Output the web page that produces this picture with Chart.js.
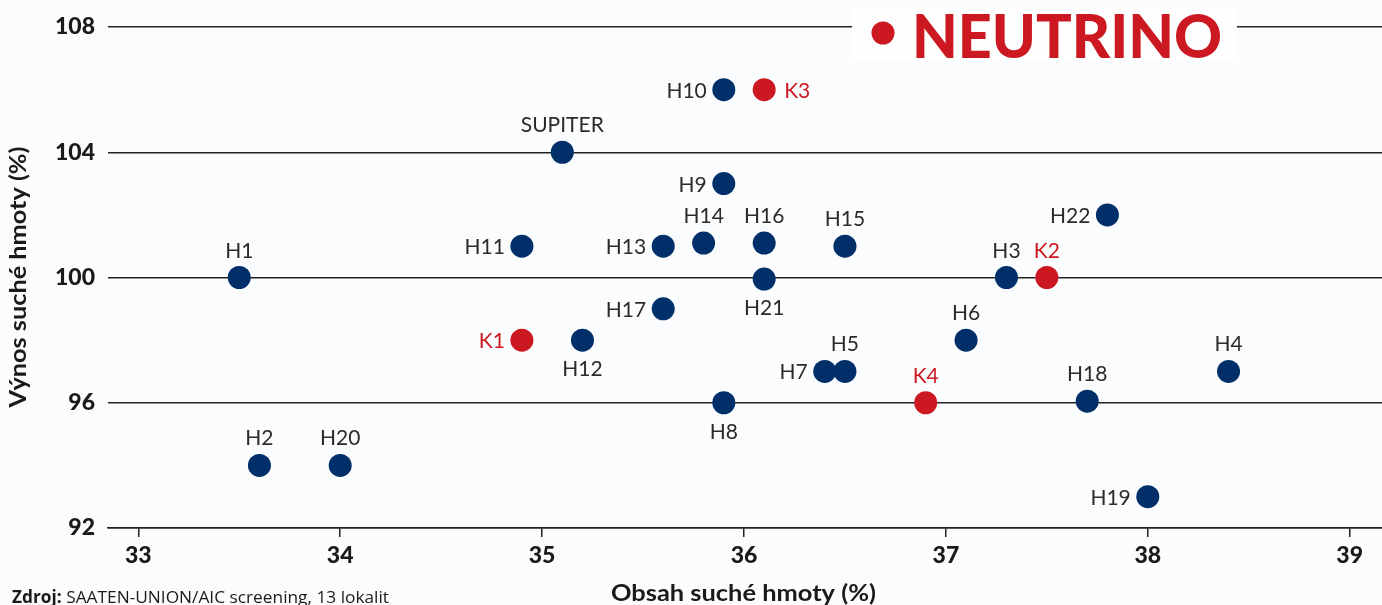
<!DOCTYPE html>
<html>
<head>
<meta charset="utf-8">
<script src="https://cdn.jsdelivr.net/npm/chart.js@4.4.1/dist/chart.umd.min.js"></script>
<style>
  html, body { margin: 0; padding: 0; background: #fbfcfe; }
  #wrap { position: relative; width: 1382px; height: 605px; }
  canvas { display: block; }
</style>
</head>
<body>
<div id="wrap"><canvas id="c" width="1382" height="605"></canvas></div>
<script>
// ---- data ----
const hybridNames = ['SUPITER','H1','H2','H3','H4','H5','H6','H7','H8','H9','H10','H11','H12','H13','H14','H15','H16','H17','H18','H19','H20','H21','H22'];
const hybridDryMatter = [35.1, 33.5, 33.6, 37.3, 38.4, 36.5, 37.1, 36.4, 35.9, 35.9, 35.9, 34.9, 35.2, 35.6, 35.8, 36.5, 36.1, 35.6, 37.7, 38.0, 34.0, 36.1, 37.8];
const hybridYield = [104, 100, 94, 100, 97, 97, 98, 97, 96, 103, 106, 101, 98, 101, 101.1, 101, 101.1, 99, 96.05, 93, 94, 99.95, 102];

const checkNames = ['K1','K2','K3','K4'];
const checkDryMatter = [34.9, 37.5, 36.1, 36.9];
const checkYield = [98, 100, 106, 96];

const xTickValues = [33, 34, 35, 36, 37, 38, 39];
const yTickValues = [92, 96, 100, 104, 108];

const legendTitle = 'NEUTRINO';
const xTitle = 'Obsah suché hmoty (%)';
const yTitle = 'Výnos suché hmoty (%)';
const sourceBold = 'Zdroj:';
const sourceText = ' SAATEN-UNION/AIC screening, 13 lokalit';

// ---- style ----
const NAVY = '#002f69';
const RED = '#cc1820';
const LABEL_GREY = '#2b2b2b';
const TEXT_DARK = '#1a1a1a';
const FONT = 'Lato, "Noto Sans", sans-serif';
const placement = {
  'SUPITER':'top','H1':'top','H2':'top','H3':'top','H4':'top','H5':'top','H6':'top','H7':'left','H8':'bottom',
  'H9':'left','H10':'left','H11':'left','H12':'bottom','H13':'left','H14':'top','H15':'top','H16':'top','H17':'left',
  'H18':'top','H19':'left','H20':'top','H21':'bottom','H22':'left',
  'K1':'left','K2':'top','K3':'right','K4':'top'
};

function fitText(ctx, text, x, y, targetWidth) {
  const w = ctx.measureText(text).width;
  ctx.save();
  ctx.translate(x, y);
  ctx.scale(targetWidth / w, 1);
  ctx.fillText(text, 0, 0);
  ctx.restore();
}

const pointLabels = {
  id: 'pointLabels',
  afterDatasetsDraw(chart) {
    const ctx = chart.ctx;
    ctx.save();
    ctx.font = '400 21px ' + FONT;
    chart.data.datasets.forEach((ds, di) => {
      const meta = chart.getDatasetMeta(di);
      meta.data.forEach((el, i) => {
        const name = ds.names[i];
        const pos = placement[name] || 'top';
        ctx.fillStyle = ds.labelColor;
        const x = el.x, y = el.y;
        ctx.textBaseline = 'alphabetic';
        if (pos === 'top') { ctx.textAlign = 'center'; ctx.fillText(name, x, y - 20); }
        else if (pos === 'bottom') { ctx.textAlign = 'center'; ctx.fillText(name, x, y + 36); }
        else if (pos === 'left') { ctx.textAlign = 'right'; ctx.fillText(name, x - 17, y + 8); }
        else { ctx.textAlign = 'left'; ctx.fillText(name, x + 20, y + 8); }
      });
    });
    ctx.restore();
  }
};

const extras = {
  id: 'extras',
  beforeDraw(chart) {
    const ctx = chart.ctx;
    ctx.save();
    ctx.fillStyle = '#fbfcfe';
    ctx.fillRect(0, 0, chart.width, chart.height);
    ctx.restore();
  },
  afterDraw(chart) {
    const ctx = chart.ctx;
    const area = chart.chartArea;
    // legend box
    ctx.save();
    ctx.fillStyle = '#fefefe';
    ctx.fillRect(852, 8, 385, 52);
    ctx.fillStyle = RED;
    ctx.beginPath();
    ctx.arc(883, 33, 11.5, 0, Math.PI * 2);
    ctx.fill();
    ctx.font = '900 60px ' + FONT;
    ctx.textAlign = 'left';
    ctx.textBaseline = 'alphabetic';
    fitText(ctx, legendTitle, 912, 58, 310);
    ctx.restore();

    // axis titles
    ctx.save();
    ctx.fillStyle = TEXT_DARK;
    ctx.font = '700 22px ' + FONT;
    ctx.textAlign = 'left';
    ctx.textBaseline = 'alphabetic';
    const xs = chart.scales.x;
    const cx = xs.getPixelForValue(36);
    fitText(ctx, xTitle, cx - 133, 601, 265);
    ctx.save();
    ctx.translate(26, (area.top + area.bottom) / 2 + 130);
    ctx.rotate(-Math.PI / 2);
    fitText(ctx, yTitle, 0, 0, 261);
    ctx.restore();
    ctx.restore();

    // source
    ctx.save();
    ctx.fillStyle = TEXT_DARK;
    ctx.textBaseline = 'alphabetic';
    ctx.textAlign = 'left';
    ctx.font = '700 17px "Open Sans", Lato, sans-serif';
    const wb = ctx.measureText(sourceBold).width;
    ctx.font = '400 17px "Open Sans", Lato, sans-serif';
    const wr = ctx.measureText(sourceText).width;
    const sx = 377 / (wb + wr);
    ctx.translate(12, 603);
    ctx.scale(sx, 1);
    ctx.font = '700 17px "Open Sans", Lato, sans-serif';
    ctx.fillText(sourceBold, 0, 0);
    ctx.font = '400 17px "Open Sans", Lato, sans-serif';
    ctx.fillText(sourceText, wb, 0);
    ctx.restore();
  }
};

const toPts = (xs, ys) => xs.map((x, i) => ({ x: x, y: ys[i] }));

new Chart(document.getElementById('c'), {
  type: 'scatter',
  data: {
    datasets: [
      { names: hybridNames, labelColor: LABEL_GREY, data: toPts(hybridDryMatter, hybridYield),
        backgroundColor: NAVY, borderWidth: 0, pointRadius: 11.5, pointHoverRadius: 11.5 },
      { names: checkNames, labelColor: RED, data: toPts(checkDryMatter, checkYield),
        backgroundColor: RED, borderWidth: 0, pointRadius: 11.5, pointHoverRadius: 11.5 }
    ]
  },
  options: {
    responsive: false,
    animation: false,
    events: [],
    layout: { autoPadding: false, padding: { top: 27, right: 0, left: 0, bottom: 0 } },
    plugins: { legend: { display: false }, tooltip: { enabled: false } },
    scales: {
      x: {
        type: 'linear', min: 32.85, max: 39.16,
        afterBuildTicks(s) { s.ticks = xTickValues.map(v => ({ value: v })); },
        afterFit(s) { s.height = 77; s.paddingLeft = 0; s.paddingRight = 0; },
        grid: { drawOnChartArea: false, drawTicks: true, tickLength: 9, color: '#222', lineWidth: 1.5 },
        border: { display: true, color: '#222', width: 1.5 },
        ticks: { color: TEXT_DARK, font: { family: FONT, size: 23, weight: '900' }, padding: 5, maxRotation: 0 },
        title: { display: false }
      },
      y: {
        type: 'linear', min: 92, max: 108,
        afterBuildTicks(s) { s.ticks = yTickValues.map(v => ({ value: v })); },
        afterFit(s) { s.width = 108; s.paddingTop = 0; s.paddingBottom = 0; },
        grid: { drawTicks: false, color: '#222', lineWidth: 1.5 },
        border: { display: false },
        ticks: { color: TEXT_DARK, font: { family: FONT, size: 23, weight: '900' }, padding: 13 },
        title: { display: false }
      }
    }
  },
  plugins: [extras, pointLabels]
});
</script>
</body>
</html>
